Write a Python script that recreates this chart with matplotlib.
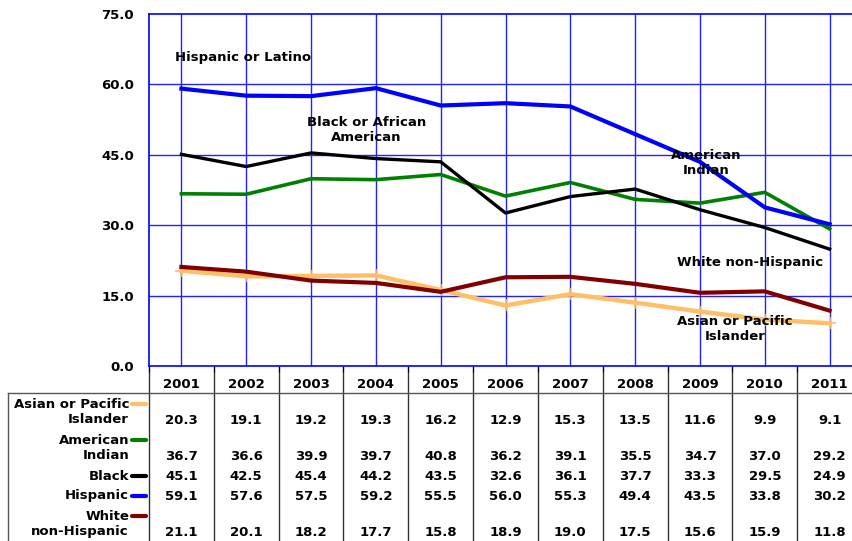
import numpy as np
import matplotlib.pyplot as plt
from matplotlib.transforms import blended_transform_factory

years = ['2001', '2002', '2003', '2004', '2005', '2006', '2007', '2008', '2009', '2010', '2011']
asian = [20.3, 19.1, 19.2, 19.3, 16.2, 12.9, 15.3, 13.5, 11.6, 9.9, 9.1]
american_indian = [36.7, 36.6, 39.9, 39.7, 40.8, 36.2, 39.1, 35.5, 34.7, 37.0, 29.2]
black = [45.1, 42.5, 45.4, 44.2, 43.5, 32.6, 36.1, 37.7, 33.3, 29.5, 24.9]
hispanic = [59.1, 57.6, 57.5, 59.2, 55.5, 56.0, 55.3, 49.4, 43.5, 33.8, 30.2]
white = [21.1, 20.1, 18.2, 17.7, 15.8, 18.9, 19.0, 17.5, 15.6, 15.9, 11.8]

row_labels = ['Asian or Pacific\nIslander', 'American\nIndian', 'Black', 'Hispanic', 'White\nnon-Hispanic']
row_series = [asian, american_indian, black, hispanic, white]
row_colors = ['#FFBF66', '#008000', '#000000', '#0000FF', '#800000']

FS = 9.5
W, H = 852, 541
fig = plt.figure(figsize=(W / 100, H / 100), dpi=100)

# main plot area (extends a little past the right edge, like the original)
left, right, top, bottom = 149, 862, 14, 366
ax = fig.add_axes([left / W, 1 - bottom / H, (right - left) / W, (bottom - top) / H])
x = np.arange(len(years))

# grid
grid_c = '#2222FF'
for v in [15, 30, 45, 60]:
    ax.axhline(v, color=grid_c, lw=1, zorder=1)
for xi in x:
    ax.axvline(xi, color=grid_c, lw=1, zorder=1)

ax.plot(x, asian, color=row_colors[0], lw=3.2, marker='+', ms=9, mew=1.2, zorder=3)
ax.plot(x, american_indian, color=row_colors[1], lw=2.6, zorder=3)
ax.plot(x, black, color=row_colors[2], lw=2.4, zorder=4)
ax.plot(x, hispanic, color=row_colors[3], lw=3, zorder=4)
ax.plot(x, white, color=row_colors[4], lw=3, zorder=5)

ax.set_xlim(-0.5, len(years) - 0.5)
ax.set_ylim(0, 75)
ax.set_yticks([0, 15, 30, 45, 60, 75])
ax.set_yticklabels(['0.0', '15.0', '30.0', '45.0', '60.0', '75.0'], fontsize=FS, fontweight='bold')
ax.tick_params(axis='y', length=0, pad=11)
ax.set_xticks(np.arange(len(years) + 1) - 0.5)
ax.set_xticklabels([])
ax.tick_params(axis='x', length=4, color='black', direction='out')
for s in ax.spines.values():
    s.set_color('#0000FF')
    s.set_linewidth(1.2)

lab = dict(fontsize=FS, fontweight='bold', ha='center', va='center', zorder=6, linespacing=1.2)
ax.text(0.95, 65.8, 'Hispanic or Latino', **lab)
ax.text(2.85, 50.3, 'Black or African\nAmerican', **lab)
ax.text(8.1, 43.3, 'American\nIndian', **lab)
ax.text(8.77, 21.95, 'White non-Hispanic', **lab)
ax.text(8.54, 7.9, 'Asian or Pacific\nIslander', **lab)

# data table below the plot, y in figure pixels
tax = fig.add_axes([0, 0, 1, 1], zorder=-1)
tax.set_xlim(0, W)
tax.set_ylim(H, 0)
tax.axis('off')
tr = blended_transform_factory(ax.transData, tax.transData)

tk = dict(fontsize=FS, fontweight='bold', ha='center', va='center')
for xi, yr in zip(x, years):
    tax.text(xi, 385, yr, transform=tr, **tk)
for b in np.arange(len(years) + 1) - 0.5:
    tax.plot([b, b], [367, H], color='#333333', lw=1, transform=tr)
tax.plot([8, W], [393, 393], color='#555555', lw=1)
tax.plot([8, 8], [393, H], color='#555555', lw=1)

value_y = [421, 456, 476, 496, 533]
label_y = [412, 448, 476, 496, 524]
key_y = [404, 440, 476, 496, 516]
for lbl, vals, c, vy, ly, ky in zip(row_labels, row_series, row_colors, value_y, label_y, key_y):
    tax.text(129, ly, lbl, fontsize=FS, fontweight='bold', ha='right', va='center',
             multialignment='right', linespacing=1.25)
    tax.plot([132, 146], [ky, ky], color=c, lw=3, solid_capstyle='round')
    for xi, v in zip(x, vals):
        tax.text(xi, vy, f'{v:.1f}', transform=tr, **tk)

fig.savefig('out.png', dpi=100)
